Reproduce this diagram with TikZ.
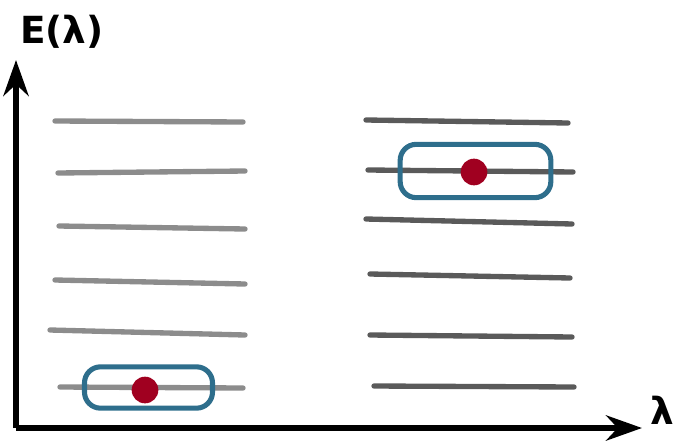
\documentclass[tikz,border=0pt]{standalone}
\usepackage{fontspec}
\setmainfont{DejaVu Sans}
\usetikzlibrary{arrows.meta,positioning,shapes}
\definecolor{levelgray}{RGB}{140,140,140}
\definecolor{leveldark}{RGB}{90,90,90}
\definecolor{boxteal}{RGB}{46,110,140}
\definecolor{dotred}{RGB}{160,0,32}

\begin{document}
\begin{tikzpicture}[x=0.75pt,y=-0.75pt,
  level/.style={line width=4pt, line cap=round},
  statebox/.style={rectangle, rounded corners=12pt, draw=boxteal, line width=3.8pt, minimum width=96pt, inner sep=0pt},
  particle/.style={circle, fill=dotred, minimum size=20pt, inner sep=0pt},
  axis/.style={line width=4pt, -{Stealth[length=27pt,width=19pt]}}]

\useasboundingbox (0,0) rectangle (677,443);

% axes
\coordinate (origin) at (16,428);
\coordinate (ytip) at (16,60);
\coordinate (xtip) at (642,428);
\draw[axis] (origin) -- (ytip);
\draw[axis] (origin) -- (xtip);
\node (energy_label) at (62,32) {\fontsize{28}{32}\bfseries\selectfont E(λ)};
\node (lambda_label) at (662,410) {\fontsize{28}{32}\bfseries\selectfont λ};

% levels, left
\draw[level, levelgray] (55,121) -- (243,122);
\draw[level, levelgray] (58,173) -- (245,171);
\draw[level, levelgray] (59,226) -- (245,229);
\draw[level, levelgray] (55,280) -- (245,284);
\draw[level, levelgray] (50,330) -- (245,335);
\draw[level, levelgray] (60,387) -- (243,388);

% levels, right
\draw[level, leveldark] (366,120) -- (568,123);
\draw[level, leveldark] (368,170) -- (573,172);
\draw[level, leveldark] (366,219) -- (572,224);
\draw[level, leveldark] (370,274) -- (570,278);
\draw[level, leveldark] (370,335) -- (572,337);
\draw[level, leveldark] (374,386) -- (574,387);

% occupied states
\node[statebox, minimum width=96pt, minimum height=31pt] (ground_box) at (148.5,387.5) {};
\node[particle] (ground_dot) at (145,390) {};
\node[statebox, minimum width=113pt, minimum height=40pt] (excited_box) at (475.5,171) {};
\node[particle] (excited_dot) at (474,172) {};

\end{tikzpicture}
\end{document}
